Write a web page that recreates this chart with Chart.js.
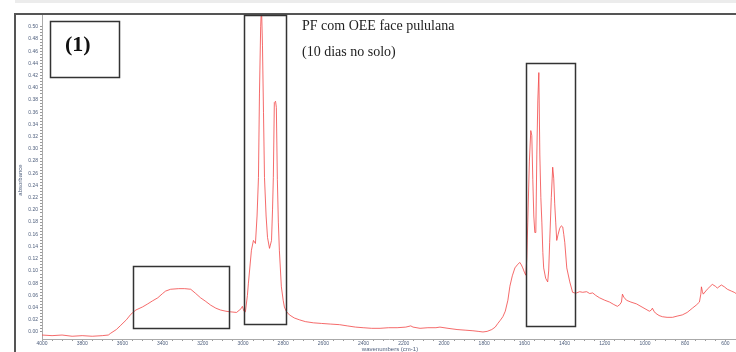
<!DOCTYPE html>
<html>
<head>
<meta charset="utf-8">
<script src="https://cdn.jsdelivr.net/npm/chart.js@4.4.1/dist/chart.umd.min.js"></script>
<style>
  html, body { margin: 0; padding: 0; background: #fff; }
  #wrap { width: 736px; height: 352px; }
</style>
</head>
<body>
<div id="wrap"><canvas id="spectrum" width="736" height="352"></canvas></div>
<script>
// espectro FTIR (numero de onda em cm-1, absorbancia)
const wavenumbers = [
  4000, 3950, 3900, 3850, 3800, 3750, 3700, 3670, 3658, 3630, 3608, 3580, 3558, 3533, 3500, 3474,
  3450, 3424, 3400, 3385, 3360, 3320, 3290, 3260, 3235, 3211, 3185, 3161, 3135, 3112, 3085, 3062,
  3032, 3010, 3003, 2995, 2988, 2978, 2973, 2958, 2948, 2938, 2930, 2923, 2918, 2912, 2908, 2903,
  2898, 2893, 2885, 2878, 2868, 2858, 2853, 2849, 2844, 2838, 2834, 2829, 2824, 2819, 2809, 2800,
  2794, 2785, 2769, 2745, 2720, 2690, 2650, 2610, 2566, 2520, 2481, 2440, 2402, 2360, 2318, 2275,
  2233, 2190, 2165, 2154, 2119, 2080, 2040, 2020, 1980, 1935, 1895, 1856, 1830, 1806, 1785, 1762,
  1745, 1732, 1720, 1707, 1695, 1682, 1672, 1660, 1647, 1635, 1623, 1615, 1608, 1600, 1593, 1588,
  1583, 1575, 1568, 1563, 1558, 1553, 1548, 1543, 1538, 1533, 1528, 1523, 1518, 1513, 1508, 1504,
  1494, 1484, 1479, 1474, 1466, 1459, 1454, 1449, 1444, 1439, 1432, 1424, 1416, 1409, 1404, 1399,
  1389, 1374, 1360, 1350, 1340, 1325, 1310, 1290, 1275, 1260, 1245, 1226, 1200, 1176, 1155, 1137,
  1125, 1117, 1112, 1105, 1092, 1070, 1042, 1010, 978, 968, 963, 955, 948, 930, 913, 890,
  863, 840, 814, 790, 764, 745, 729, 722, 719, 714, 710, 690, 665, 650, 640, 620,
  605, 590, 570, 556, 547
]
const absorbance = [
  -0.005, -0.006, -0.005, -0.007, -0.006, -0.007, -0.006, -0.005, -0.002, 0.004, 0.011, 0.020, 0.029, 0.036, 0.041, 0.046,
  0.051, 0.056, 0.063, 0.067, 0.070, 0.071, 0.071, 0.070, 0.063, 0.056, 0.050, 0.044, 0.039, 0.036, 0.034, 0.033,
  0.032, 0.038, 0.042, 0.034, 0.033, 0.060, 0.080, 0.134, 0.150, 0.145, 0.190, 0.253, 0.390, 0.500, 0.535, 0.470,
  0.360, 0.253, 0.190, 0.155, 0.137, 0.150, 0.200, 0.253, 0.376, 0.378, 0.368, 0.250, 0.180, 0.134, 0.074, 0.052,
  0.041, 0.034, 0.028, 0.023, 0.020, 0.017, 0.015, 0.014, 0.013, 0.012, 0.010, 0.008, 0.007, 0.006, 0.006, 0.007,
  0.007, 0.008, 0.010, 0.008, 0.006, 0.007, 0.007, 0.008, 0.006, 0.004, 0.003, 0.002, 0.001, 0.000, 0.001, 0.004,
  0.008, 0.014, 0.019, 0.025, 0.034, 0.052, 0.075, 0.092, 0.105, 0.110, 0.114, 0.110, 0.105, 0.098, 0.093, 0.120,
  0.180, 0.280, 0.330, 0.322, 0.250, 0.190, 0.163, 0.163, 0.290, 0.380, 0.425, 0.290, 0.220, 0.180, 0.130, 0.105,
  0.088, 0.082, 0.100, 0.147, 0.220, 0.270, 0.252, 0.210, 0.180, 0.150, 0.160, 0.170, 0.174, 0.172, 0.160, 0.147,
  0.105, 0.082, 0.065, 0.064, 0.064, 0.066, 0.065, 0.066, 0.063, 0.064, 0.060, 0.056, 0.052, 0.049, 0.045, 0.042,
  0.045, 0.049, 0.062, 0.057, 0.052, 0.049, 0.046, 0.040, 0.034, 0.036, 0.039, 0.034, 0.031, 0.027, 0.025, 0.024,
  0.024, 0.026, 0.028, 0.032, 0.039, 0.044, 0.049, 0.062, 0.074, 0.066, 0.062, 0.070, 0.078, 0.075, 0.072, 0.077,
  0.074, 0.070, 0.067, 0.065, 0.063
]
const xTickLabels = [4000, 3800, 3600, 3400, 3200, 3000, 2800, 2600, 2400, 2200, 2000, 1800, 1600, 1400, 1200, 1000, 800, 600]
const yTickLabels = [0, 0.02, 0.04, 0.06, 0.08, 0.10, 0.12, 0.14, 0.16, 0.18, 0.20, 0.22, 0.24,
  0.26, 0.28, 0.30, 0.32, 0.34, 0.36, 0.38, 0.40, 0.42, 0.44, 0.46, 0.48, 0.50]

const points = wavenumbers.map((w, i) => ({ x: w, y: absorbance[i] }))

// marcas menores entre as principais (so visuais)
function withMinor(major, parts) {
  const out = []
  const sorted = [...major].sort((a, b) => a - b)
  for (let i = 0; i < sorted.length; i++) {
    out.push({ value: sorted[i], major: true })
    if (i < sorted.length - 1) {
      const step = (sorted[i + 1] - sorted[i]) / parts
      for (let k = 1; k < parts; k++) out.push({ value: sorted[i] + step * k })
    }
  }
  return out
}

const boxes = [
  { x1: 3960, x2: 3617, y1: 0.510, y2: 0.418 },
  { x1: 3547, x2: 3070, y1: 0.108, y2: 0.007 },
  { x1: 2994, x2: 2786, y1: 0.520, y2: 0.013 },
  { x1: 1594, x2: 1348, y1: 0.441, y2: 0.010 }
]

const overlay = {
  id: 'overlay',
  beforeDraw(chart) {
    const ctx = chart.ctx
    ctx.save()
    ctx.fillStyle = '#fff'
    ctx.fillRect(0, 0, chart.width, chart.height)
    ctx.fillStyle = '#ececec'
    ctx.fillRect(15, 0, chart.width - 15, 3)
    ctx.restore()
  },
  afterDraw(chart) {
    const ctx = chart.ctx
    const xs = chart.scales.x, ys = chart.scales.y
    ctx.save()
    // moldura
    ctx.strokeStyle = '#555'
    ctx.lineWidth = 2
    ctx.beginPath()
    ctx.moveTo(15, 352)
    ctx.lineTo(15, 14)
    ctx.lineTo(736, 14)
    ctx.stroke()

    // caixas
    ctx.strokeStyle = '#333'
    ctx.lineWidth = 1.5
    boxes.forEach(b => {
      const l = Math.round(xs.getPixelForValue(b.x1)) + 0.5
      const r = Math.round(xs.getPixelForValue(b.x2)) + 0.5
      const t = Math.round(ys.getPixelForValue(b.y1)) + 0.5
      const bt = Math.round(ys.getPixelForValue(b.y2)) + 0.5
      ctx.strokeRect(l, t, r - l, bt - t)
    })

    // textos
    ctx.fillStyle = '#111'
    ctx.textBaseline = 'alphabetic'
    ctx.textAlign = 'left'
    ctx.font = 'bold 22px "Liberation Serif", serif'
    ctx.fillText('(1)', 65, 51)
    ctx.fillStyle = '#222'
    ctx.font = '14px "Liberation Serif", serif'
    ctx.fillText('PF com OEE face pululana', 302, 30)
    ctx.fillText('(10 dias no solo)', 302, 56)

    // titulos dos eixos
    ctx.fillStyle = '#50607e'
    ctx.font = '6px "Liberation Sans", sans-serif'
    ctx.textAlign = 'center'
    ctx.fillText('wavenumbers (cm-1)', 390, 351)
    ctx.translate(22, 180)
    ctx.rotate(-Math.PI / 2)
    ctx.fillText('absorbance', 0, 0)
    ctx.restore()
  }
}

Chart.defaults.font.family = '"Liberation Sans", Arial, sans-serif'

new Chart(document.getElementById('spectrum'), {
  type: 'line',
  data: {
    datasets: [{
      data: points,
      borderColor: 'rgba(242, 70, 70, 0.8)',
      borderWidth: 1,
      pointRadius: 0,
      tension: 0,
      fill: false
    }]
  },
  options: {
    responsive: false,
    animation: false,
    layout: { padding: { top: 14, left: 0, right: 0, bottom: 0 } },
    plugins: { legend: { display: false }, tooltip: { enabled: false } },
    scales: {
      x: {
        type: 'linear',
        reverse: true,
        min: 547,
        max: 4000,
        afterFit: s => { s.height = 13 },
        afterBuildTicks: s => { s.ticks = withMinor(xTickLabels, 4) },
        border: { display: true, color: '#aaa' },
        grid: { drawOnChartArea: false, drawTicks: true, tickLength: 2, color: '#999' },
        ticks: {
          autoSkip: false,
          maxRotation: 0,
          padding: 0,
          color: '#50607e',
          font: { size: 5 },
          callback: function (v, i, ticks) { return ticks[i].major ? String(v) : '' }
        }
      },
      y: {
        min: -0.0115,
        max: 0.521,
        afterFit: s => { s.width = 42 },
        afterBuildTicks: s => { s.ticks = withMinor(yTickLabels, 4) },
        border: { display: true, color: '#aaa' },
        grid: { drawOnChartArea: false, drawTicks: true, tickLength: 2, color: '#999' },
        ticks: {
          autoSkip: false,
          padding: 2,
          color: '#50607e',
          font: { size: 5 },
          callback: function (v, i, ticks) { return ticks[i].major ? v.toFixed(2) : '' }
        }
      }
    }
  },
  plugins: [overlay]
})
</script>
</body>
</html>
